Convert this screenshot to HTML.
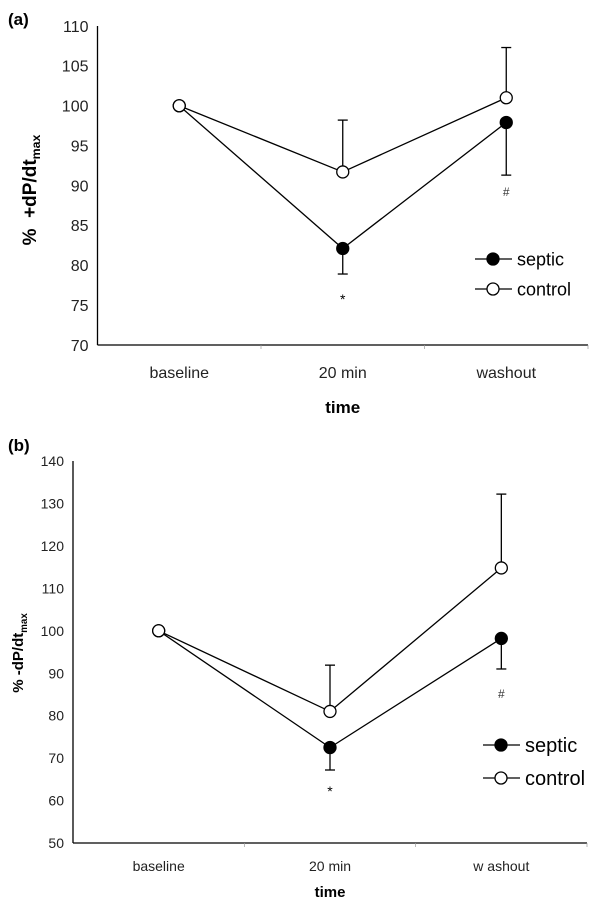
<!DOCTYPE html>
<html><head><meta charset="utf-8">
<style>
html,body{margin:0;padding:0;background:#fff;}
svg{display:block;font-family:"Liberation Sans",Arial,sans-serif;}
</style></head>
<body>
<svg id="fig" width="600" height="902" viewBox="0 0 600 902">
  <text x="8" y="25" font-size="17" font-weight="bold">(a)</text>
  <text x="8" y="451" font-size="17" font-weight="bold">(b)</text>
</svg>
<script>
const categories = ["baseline", "20 min", "washout"];
// Panel A
const aTicks = [70, 75, 80, 85, 90, 95, 100, 105, 110];
const aSeptic = [100, 82.1, 97.9];
const aSepticErr = [null, 78.9, 91.3];
const aControl = [100, 91.7, 101];
const aControlErr = [null, 98.2, 107.3];
// Panel B
const bTicks = [50, 60, 70, 80, 90, 100, 110, 120, 130, 140];
const bSeptic = [100, 72.5, 98.2];
const bSepticErr = [null, 67.2, 91];
const bControl = [100, 81, 114.8];
const bControlErr = [null, 91.9, 132.2];
const bXLabels = ["baseline", "20 min", "w ashout"];

const NS = "http://www.w3.org/2000/svg";
const svg = document.getElementById("fig");
function mk(tag, attrs, parent) {
  const e = document.createElementNS(NS, tag);
  for (const k in attrs) e.setAttribute(k, attrs[k]);
  (parent || svg).appendChild(e);
  return e;
}

function panel(cfg) {
  const g = mk("g", {});
  
  
  const ymin = cfg.ticks[0], ymax = cfg.ticks[cfg.ticks.length - 1];
  const y = v => cfg.yBot - (v - ymin) / (ymax - ymin) * (cfg.yBot - cfg.yTop);
  const band = (cfg.xEnd - cfg.x0) / categories.length;
  const x = i => cfg.x0 + band * (i + 0.5);
  const ya = mk("line", {x1: cfg.x0, y1: cfg.yTop, x2: cfg.x0, y2: cfg.yBot, stroke: "#000", "stroke-width": 1.3}, g);
  
  
  const xa = mk("line", {x1: cfg.x0, y1: cfg.yBot, x2: cfg.xEnd, y2: cfg.yBot, stroke: "#000", "stroke-width": 1.3}, g);
  
  
  for (let i = 1; i <= categories.length; i++) {
    const tx = cfg.x0 + band * i;
    const t = mk("line", {x1: tx, y1: cfg.yBot, x2: tx, y2: cfg.yBot + 4, stroke: "#999", "stroke-width": 0.7}, g);
    
    
  }
  cfg.ticks.forEach(v => {
    const t = mk("text", {x: cfg.x0 - 9, y: y(v) + cfg.tickFs * 0.36, "font-size": cfg.tickFs, "text-anchor": "end", fill: "#222"}, g);
    t.textContent = v;
    
    
  });
  cfg.xLabels.forEach((c, i) => {
    const t = mk("text", {x: x(i), y: cfg.xLabY, "font-size": cfg.xFs, "text-anchor": "middle", fill: "#222"}, g);
    t.textContent = c;
    
    
  });
  const xt = mk("text", {x: x(1), y: cfg.timeY, "font-size": cfg.timeFs, "font-weight": "bold", "text-anchor": "middle"}, g);
  xt.textContent = "time";
  
  
  const yt = mk("text", {x: 0, y: 0, "font-size": cfg.ylFs, "font-weight": "bold", "text-anchor": "middle",
    transform: `translate(${cfg.ylX},${cfg.ylY}) rotate(-90)`}, g);
  yt.innerHTML = cfg.ylText + '<tspan font-size="' + (cfg.ylFs * 0.65) + '" dy="4">max</tspan>';
  
  
  function err(vals, errs, nm) {
    errs.forEach((e, i) => {
      if (e === null) return;
      const l = mk("line", {x1: x(i), y1: y(vals[i]), x2: x(i), y2: y(e), stroke: "#000", "stroke-width": 1.3}, g);
      
      
      const c = mk("line", {x1: x(i) - 5, y1: y(e), x2: x(i) + 5, y2: y(e), stroke: "#000", "stroke-width": 1.3}, g);
      
      
    });
  }
  err(cfg.septic, cfg.septicErr, "septic");
  err(cfg.control, cfg.controlErr, "control");
  function series(vals, fill, nm) {
    const p = mk("polyline", {points: vals.map((v, i) => x(i) + "," + y(v)).join(" "), fill: "none", stroke: "#000", "stroke-width": 1.3}, g);
    
    
    vals.forEach((v, i) => {
      const c = mk("circle", {cx: x(i), cy: y(v), r: 6, fill: fill, stroke: "#000", "stroke-width": 1.3}, g);
      
      
    });
  }
  series(cfg.septic, "#000", "septic");
  series(cfg.control, "#fff", "control");
  const st = mk("text", {x: x(1), y: cfg.starY, "font-size": 14, "text-anchor": "middle"}, g);
  st.textContent = "*";
  
  
  const hs = mk("text", {x: x(2), y: cfg.hashY, "font-size": 12, "text-anchor": "middle", fill: "#333"}, g);
  hs.textContent = "#";
  
  
  [["septic", "#000", cfg.legY[0]], ["control", "#fff", cfg.legY[1]]].forEach(([nm, f, ly]) => {
    const lg = mk("g", {}, g);
    
    
    mk("line", {x1: cfg.legX, y1: ly, x2: cfg.legX + 37, y2: ly, stroke: "#000", "stroke-width": 1.3}, lg);
    mk("circle", {cx: cfg.legX + 18, cy: ly, r: 6, fill: f, stroke: "#000", "stroke-width": 1.3}, lg);
    const t = mk("text", {x: cfg.legX + 42, y: ly + cfg.legFs * 0.36, "font-size": cfg.legFs}, lg);
    t.textContent = nm;
  });
}

panel({name: "panel-a-chart", ticks: aTicks, septic: aSeptic, septicErr: aSepticErr, control: aControl, controlErr: aControlErr,
  x0: 97.5, xEnd: 588, yTop: 26, yBot: 345, tickFs: 16, xLabels: categories, xLabY: 378, xFs: 16, timeY: 413, timeFs: 17,
  ylText: "%\u00a0\u00a0+dP/dt", ylFs: 19, ylX: 36, ylY: 190, starY: 304, hashY: 196, legX: 475, legY: [259, 289], legFs: 18});
panel({name: "panel-b-chart", ticks: bTicks, septic: bSeptic, septicErr: bSepticErr, control: bControl, controlErr: bControlErr,
  x0: 73, xEnd: 587, yTop: 461, yBot: 843, tickFs: 14, xLabels: bXLabels, xLabY: 871, xFs: 14, timeY: 897, timeFs: 15,
  ylText: "% -dP/dt", ylFs: 15, ylX: 23, ylY: 653, starY: 796, hashY: 698, legX: 483, legY: [745, 778], legFs: 20});
</script>
</body></html>
